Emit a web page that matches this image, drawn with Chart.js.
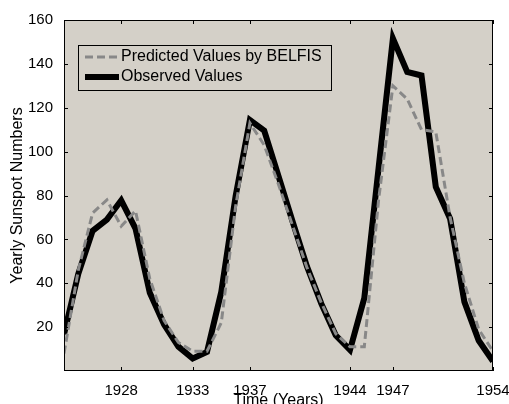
<!DOCTYPE html>
<html>
<head>
<meta charset="utf-8">
<script src="https://cdn.jsdelivr.net/npm/chart.js@4"></script>
<style>
  body { margin: 0; background: #fff; }
  canvas { display: block; }
</style>
</head>
<body>
<canvas id="sunspotChart" width="509" height="404"></canvas>
<script>
const years = [1924, 1925, 1926, 1927, 1928, 1929, 1930, 1931, 1932, 1933, 1934, 1935, 1936, 1937, 1938, 1939,
               1940, 1941, 1942, 1943, 1944, 1945, 1946, 1947, 1948, 1949, 1950, 1951, 1952, 1953, 1954];

const observed = [16.7, 44.3, 63.9, 69.0, 77.8, 64.9, 35.7, 21.2, 11.1, 5.7, 8.7, 36.1, 79.7, 114.4, 109.6, 88.8,
                  67.8, 47.5, 30.6, 16.3, 9.6, 33.2, 92.6, 151.6, 136.3, 134.7, 83.9, 69.4, 31.5, 13.9, 4.4];

const predicted = [8, 46, 72, 78, 66, 73, 42, 23, 13, 9, 9, 22, 75, 113, 103, 85,
                   66, 47, 31, 17, 11, 11, 78, 130, 124, 110, 109, 70, 40, 19, 9];

const xTicks = [1928, 1933, 1937, 1944, 1947, 1954];
const yTicks = [20, 40, 60, 80, 100, 120, 140, 160];

const FONT = "'Liberation Sans', Arial, Helvetica, sans-serif";

const toPoints = (values) => years.map((y, i) => ({ x: y, y: values[i] }));

// frame, inward ticks and legend box drawn like the matlab figure
const framePlugin = {
    id: 'frame',
    beforeDatasetsDraw(chart) {
        const { ctx, chartArea: a } = chart;
        ctx.save();
        ctx.fillStyle = '#d4d0c8';
        ctx.fillRect(a.left, a.top, a.right - a.left, a.bottom - a.top);
        ctx.restore();
    },
    afterDatasetsDraw(chart) {
        const { ctx, chartArea: a, scales } = chart;
        ctx.save();
        ctx.strokeStyle = '#000';
        ctx.lineWidth = 1;
        ctx.strokeRect(a.left + 0.5, a.top + 0.5, a.right - a.left - 1, a.bottom - a.top - 1);
        const len = 4;
        ctx.beginPath();
        xTicks.forEach(v => {
            const px = Math.round(scales.x.getPixelForValue(v)) + 0.5;
            ctx.moveTo(px, a.bottom); ctx.lineTo(px, a.bottom - len);
            ctx.moveTo(px, a.top); ctx.lineTo(px, a.top + len);
        });
        yTicks.forEach(v => {
            const py = Math.round(scales.y.getPixelForValue(v)) + 0.5;
            ctx.moveTo(a.left, py); ctx.lineTo(a.left + len, py);
            ctx.moveTo(a.right, py); ctx.lineTo(a.right - len, py);
        });
        ctx.stroke();

        // legend
        const bx = a.left + 14, by = a.top + 25, bw = 253, bh = 45;
        ctx.fillStyle = '#d4d0c8';
        ctx.fillRect(bx, by, bw, bh);
        ctx.strokeRect(bx + 0.5, by + 0.5, bw, bh);
        ctx.font = '16px ' + FONT;
        ctx.textBaseline = 'middle';
        chart.data.datasets.forEach((ds, i) => {
            const ly = by + 12 + i * 20;
            ctx.save();
            ctx.strokeStyle = ds.borderColor;
            ctx.lineWidth = ds.borderWidth;
            ctx.setLineDash(ds.borderDash || []);
            ctx.beginPath();
            ctx.moveTo(bx + 7, ly);
            ctx.lineTo(bx + 41, ly);
            ctx.stroke();
            ctx.restore();
            ctx.fillStyle = '#000';
            ctx.fillText(ds.label, bx + 43, ly);
        });
        ctx.restore();
    }
};

const config = {
    type: 'line',
    data: {
        datasets: [
            {
                label: 'Predicted Values by BELFIS',
                data: toPoints(predicted),
                borderColor: '#888888',
                borderWidth: 3,
                borderDash: [8, 4],
                pointRadius: 0,
                tension: 0,
                fill: false
            },
            {
                label: 'Observed Values',
                data: toPoints(observed),
                borderColor: '#000000',
                borderWidth: 6,
                pointRadius: 0,
                tension: 0,
                fill: false
            }
        ]
    },
    options: {
        responsive: false,
        animation: false,
        layout: { padding: { top: 20, right: 16, left: 0, bottom: 0 } },
        plugins: {
            legend: { display: false },
            tooltip: { enabled: false }
        },
        scales: {
            x: {
                type: 'linear',
                min: 1924,
                max: 1954,
                afterBuildTicks: (scale) => { scale.ticks = xTicks.map(v => ({ value: v })); },
                afterFit: (scale) => {
                    scale.height = 33;
                    scale.paddingRight = 0;
                    scale.paddingLeft = 0;
                },
                grid: { display: false },
                border: { display: false },
                ticks: {
                    color: '#000',
                    padding: 3,
                    maxRotation: 0,
                    autoSkip: false,
                    font: { family: FONT, size: 15 },
                    callback: (v) => String(v)
                },
                title: {
                    display: true,
                    text: 'Time (Years)',
                    color: '#000',
                    font: { family: FONT, size: 16 },
                    padding: { top: 0, bottom: -6 }
                }
            },
            y: {
                min: 0,
                max: 160,
                afterBuildTicks: (scale) => { scale.ticks = yTicks.map(v => ({ value: v })); },
                afterFit: (scale) => { scale.width = 64; },
                grid: { display: false },
                border: { display: false },
                ticks: {
                    color: '#000',
                    padding: 3,
                    font: { family: FONT, size: 15 }
                },
                title: {
                    display: true,
                    text: 'Yearly Sunspot Numbers',
                    color: '#000',
                    font: { family: FONT, size: 16 },
                    padding: { top: 8, bottom: 0 }
                }
            }
        }
    },
    plugins: [framePlugin]
};

new Chart(document.getElementById('sunspotChart'), config);
</script>
</body>
</html>
